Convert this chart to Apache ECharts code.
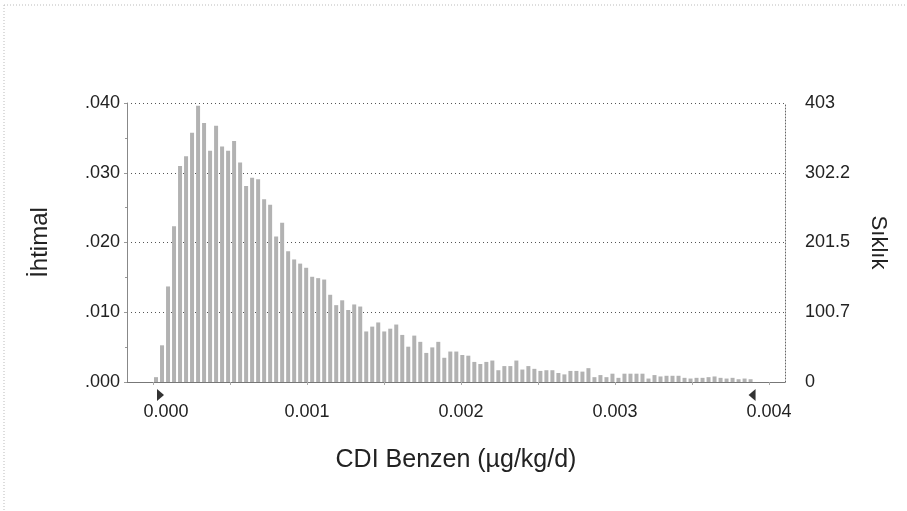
<!DOCTYPE html>
<html><head><meta charset="utf-8">
<script src="https://cdn.jsdelivr.net/npm/echarts@6/dist/echarts.min.js"></script>
<style>html,body{margin:0;padding:0;background:#fff}#c{width:907px;height:511px}</style>
</head><body><div id="c"></div>
<script>
// Frequency (count out of 10000 trials) per histogram bin
const frequency = [
  7, 53, 138, 225, 312, 326, 360, 399, 374, 334,
  370, 340, 334, 348, 317, 283, 295, 293, 264, 256,
  210, 230, 189, 177, 171, 165, 152, 150, 148, 126,
  111, 118, 104, 112, 109, 73, 80, 86, 73, 77,
  83, 68, 51, 67, 58, 42, 50, 58, 35, 44,
  44, 39, 38, 29, 26, 29, 31, 17, 23, 23,
  31, 18, 23, 19, 16, 17, 17, 13, 11, 16,
  16, 15, 20, 7, 10, 7, 12, 6, 12, 12,
  12, 12, 5, 10, 8, 9, 9, 9, 6, 5,
  6, 6, 7, 8, 6, 5, 6, 4, 5, 4
];
const binWidth = 0.000039;          // histogram bin width (µg/kg/d)
const trials = 10000;
const freqMax = 403;
const xTickValues = [0, 0.001, 0.002, 0.003, 0.004];
const xTickLabels = ['0.000', '0.001', '0.002', '0.003', '0.004'];
const xMinorTicks = [0, 0.0005, 0.001, 0.0015, 0.002, 0.0025, 0.003, 0.0035, 0.004];
const probTickLabels = ['.000', '.010', '.020', '.030', '.040'];
const freqTickLabels = ['0', '100.7', '201.5', '302.2', '403'];
const markerValues = [0, 0.0039];   // certainty range grabbers

const binCenters = frequency.map((_, i) => (i + 0.5) * binWidth);
const font = '"Liberation Sans", Arial, sans-serif';
const txt = '#222';

const chart = echarts.init(document.getElementById('c'), null, {renderer: 'canvas'});
const probStep = freqMax / trials / 4;
const freqStep = freqMax / 4;

chart.setOption({
  animation: false,
  backgroundColor: '#fff',
  grid: {left: 127, right: 122, top: 103, bottom: 129, outerBoundsMode: 'none', containLabel: false},
  xAxis: {
    type: 'value', min: -0.000169, max: 0.004104,
    axisLine: {show: true, onZero: false, lineStyle: {color: '#777', width: 1}},
    axisTick: {show: true, customValues: xMinorTicks, length: 3, lineStyle: {color: '#aaa'}},
    axisLabel: {
      customValues: xTickValues,
      formatter: v => {
        const k = Math.round(v * 1000);
        return k === 0 ? '{first|' + xTickLabels[k] + '}' : xTickLabels[k];
      },
      rich: {first: {padding: [0, 0, 0, 26], fontSize: 18, color: txt, fontFamily: font}},
      margin: 21, fontSize: 18, color: txt, fontFamily: font
    },
    splitLine: {show: false},
    name: 'CDI Benzen (µg/kg/d)', nameLocation: 'middle', nameGap: 66,
    nameTextStyle: {fontSize: 25, color: txt, fontFamily: font}
  },
  yAxis: [
    {
      type: 'value', min: 0, max: freqMax / trials, interval: probStep, position: 'left',
      axisLine: {show: true, onZero: false, lineStyle: {color: '#888'}},
      axisTick: {show: true, length: 3, inside: false, lineStyle: {color: '#999'}},
      minorTick: {show: true, splitNumber: 2, length: 2, lineStyle: {color: '#999'}},
      axisLabel: {formatter: v => probTickLabels[Math.round(v / probStep)], margin: 7,
        fontSize: 18, color: txt, fontFamily: font},
      splitLine: {show: true, lineStyle: {color: '#555', type: [1, 3], width: 1}},
      name: 'İhtimal', nameLocation: 'middle', nameRotate: 90, nameGap: 75,
      nameTextStyle: {fontSize: 24, color: txt, fontFamily: font}
    },
    {
      type: 'value', min: 0, max: freqMax, interval: freqStep, position: 'right',
      axisLine: {show: true, onZero: false, lineStyle: {color: '#666', type: [1, 2]}},
      axisTick: {show: false},
      axisLabel: {formatter: v => freqTickLabels[Math.round(v / freqStep)], margin: 20,
        fontSize: 18, color: txt, fontFamily: font},
      splitLine: {show: false},
      name: 'Sıklık', nameLocation: 'middle', nameRotate: -90, nameGap: 82,
      nameTextStyle: {fontSize: 22, color: txt, fontFamily: font}
    }
  ],
  series: [{
    type: 'bar', yAxisIndex: 1, silent: true,
    data: binCenters.map((x, i) => [x, frequency[i]]),
    barWidth: 4,
    itemStyle: {color: '#b2b2b2'}
  }]
});

// certainty-range grabber triangles and outer frame
const p0 = chart.convertToPixel({xAxisIndex: 0, yAxisIndex: 1}, [markerValues[0], 0]);
const p1 = chart.convertToPixel({xAxisIndex: 0, yAxisIndex: 1}, [markerValues[1], 0]);
const ty = p0[1] + 13;
chart.setOption({
  graphic: [
    {type: 'polygon', shape: {points: [[p0[0] + 4, ty - 6], [p0[0] + 11, ty], [p0[0] + 4, ty + 6]]},
      style: {fill: '#333'}},
    {type: 'polygon', shape: {points: [[p1[0] + 2, ty - 6], [p1[0] - 5, ty], [p1[0] + 2, ty + 6]]},
      style: {fill: '#333'}},
    {type: 'line', shape: {x1: 4, y1: 5, x2: 907, y2: 5}, style: {stroke: '#bbb', lineDash: [1, 2]}},
    {type: 'line', shape: {x1: 4, y1: 5, x2: 4, y2: 511}, style: {stroke: '#bbb', lineDash: [1, 2]}}
  ]
});
</script>
</body></html>
